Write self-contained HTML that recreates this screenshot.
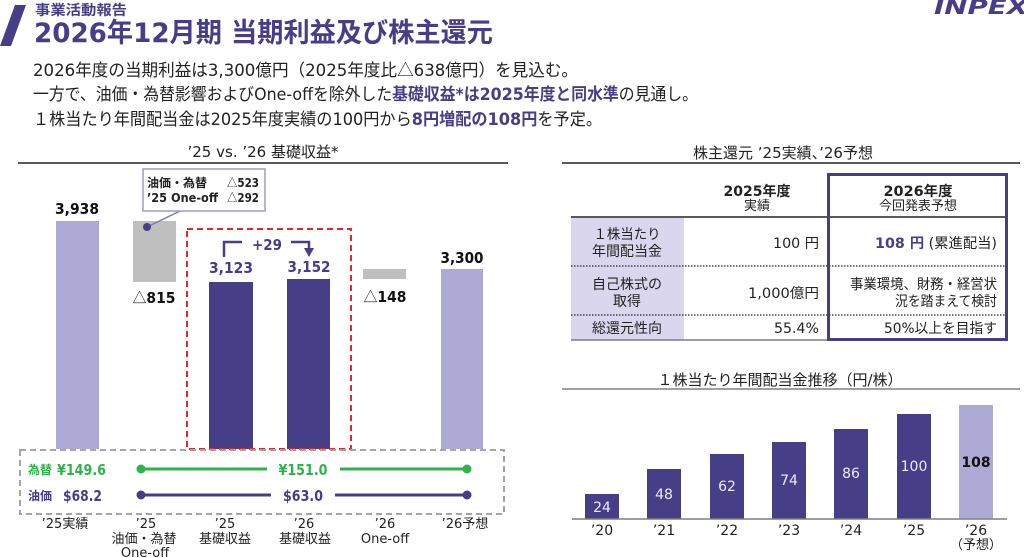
<!DOCTYPE html>
<html><head><meta charset="utf-8">
<style>
html,body{margin:0;padding:0;background:#fff;}
svg{display:block;}
text{font-family:"DejaVu Sans","Noto Sans CJK JP",sans-serif;}
.cj{font-family:"Noto Sans CJK JP",sans-serif;}
</style></head><body>
<svg width="1024" height="558" viewBox="0 0 1024 558" xmlns="http://www.w3.org/2000/svg">
<!-- header -->
<polygon points="15,5 26,5 11,46 0,46" fill="#463f88"/>
<text x="35" y="15" font-size="14" font-weight="bold" fill="#463f88" textLength="92" lengthAdjust="spacingAndGlyphs">事業活動報告</text>
<text x="34" y="42" font-size="27" font-weight="bold" fill="#463f88" textLength="459" lengthAdjust="spacingAndGlyphs">2026年12月期 当期利益及び株主還元</text>
<text x="934" y="14" font-size="20" font-weight="bold" font-style="italic" fill="#463f88" textLength="94" lengthAdjust="spacingAndGlyphs">INPEX</text>

<!-- body text -->
<text x="33" y="76" font-size="17" fill="#222" textLength="545" lengthAdjust="spacingAndGlyphs">2026年度の当期利益は3,300億円（2025年度比<tspan class="cj">△</tspan>638億円）を見込む。</text>
<text x="33" y="100" font-size="17" fill="#222" textLength="665" lengthAdjust="spacingAndGlyphs">一方で、油価・為替影響およびOne-offを除外した<tspan fill="#463f88" font-weight="bold">基礎収益*は2025年度と同水準</tspan>の見通し。</text>
<text x="33" y="125" font-size="17" fill="#222" textLength="569" lengthAdjust="spacingAndGlyphs">１株当たり年間配当金は2025年度実績の100円から<tspan fill="#463f88" font-weight="bold">8円増配の108円</tspan>を予定。</text>

<!-- left chart title -->
<text x="263" y="157" font-size="15" fill="#222" text-anchor="middle">’25 vs. ’26 基礎収益*</text>
<line x1="18" y1="163" x2="508" y2="163" stroke="#222" stroke-width="1.5"/>

<!-- right title -->
<text x="783" y="158" font-size="15" fill="#222" text-anchor="middle">株主還元 ’25実績、’26予想</text>
<line x1="562" y1="163" x2="1020" y2="163" stroke="#222" stroke-width="1.5"/>

<!-- waterfall bars -->
<rect x="56" y="221" width="43" height="228" fill="#aeaad6"/>
<rect x="133" y="221" width="43" height="61" fill="#bfbfbf"/>
<rect x="209" y="282" width="44" height="167" fill="#463f88"/>
<rect x="287" y="279" width="43" height="170" fill="#463f88"/>
<rect x="363" y="269" width="43" height="10" fill="#bfbfbf"/>
<rect x="441" y="269" width="42" height="180" fill="#aeaad6"/>

<!-- bar labels -->
<text x="77" y="214" font-size="15" font-weight="bold" fill="#111" text-anchor="middle" textLength="44" lengthAdjust="spacingAndGlyphs">3,938</text>
<text x="154" y="303" font-size="15" font-weight="bold" fill="#111" text-anchor="middle" textLength="43" lengthAdjust="spacingAndGlyphs"><tspan class="cj" font-weight="normal">△</tspan>815</text>
<text x="231" y="273" font-size="15" font-weight="bold" fill="#463f88" text-anchor="middle" textLength="44" lengthAdjust="spacingAndGlyphs">3,123</text>
<text x="309" y="272" font-size="15" font-weight="bold" fill="#463f88" text-anchor="middle" textLength="43" lengthAdjust="spacingAndGlyphs">3,152</text>
<text x="385" y="302" font-size="15" font-weight="bold" fill="#111" text-anchor="middle" textLength="43" lengthAdjust="spacingAndGlyphs"><tspan class="cj" font-weight="normal">△</tspan>148</text>
<text x="462" y="263" font-size="15" font-weight="bold" fill="#111" text-anchor="middle" textLength="43" lengthAdjust="spacingAndGlyphs">3,300</text>

<!-- callout -->
<line x1="180" y1="211" x2="147" y2="227" stroke="#7e79b8" stroke-width="1.5"/>
<circle cx="147" cy="227" r="4" fill="#463f88"/>
<rect x="143" y="169" width="122" height="42" fill="#fff" stroke="#9e9acb" stroke-width="1.5"/>
<text x="147" y="187" font-size="12" font-weight="bold" fill="#222" textLength="60" lengthAdjust="spacingAndGlyphs">油価・為替</text>
<text x="259" y="187" font-size="12" font-weight="bold" fill="#222" text-anchor="end" textLength="32" lengthAdjust="spacingAndGlyphs"><tspan class="cj" font-weight="normal">△</tspan>523</text>
<text x="147" y="202" font-size="12" font-weight="bold" fill="#222" textLength="71" lengthAdjust="spacingAndGlyphs">’25 One-off</text>
<text x="259" y="202" font-size="12" font-weight="bold" fill="#222" text-anchor="end" textLength="32" lengthAdjust="spacingAndGlyphs"><tspan class="cj" font-weight="normal">△</tspan>292</text>

<!-- red dashed box -->
<rect x="187" y="229" width="164" height="220" fill="none" stroke="#e5262b" stroke-width="2" stroke-dasharray="6,4"/>
<!-- bracket arrow -->
<path d="M224,257 V242 H242" fill="none" stroke="#463f88" stroke-width="2.5"/>
<path d="M291,242 H309 V250" fill="none" stroke="#463f88" stroke-width="2.5"/>
<polygon points="304,248 314,248 309,257" fill="#463f88"/>
<text x="267" y="250" font-size="15" font-weight="bold" fill="#463f88" text-anchor="middle" textLength="30" lengthAdjust="spacingAndGlyphs">+29</text>

<!-- gray dashed box -->
<rect x="20" y="450" width="484" height="64" fill="none" stroke="#a5a5a5" stroke-width="2" stroke-dasharray="6,4"/>
<line x1="141" y1="469" x2="267" y2="469" stroke="#2eb34b" stroke-width="3"/>
<line x1="340" y1="469" x2="467" y2="469" stroke="#2eb34b" stroke-width="3"/>
<circle cx="141" cy="469" r="4.5" fill="#2eb34b"/>
<circle cx="467" cy="469" r="4.5" fill="#2eb34b"/>
<text x="28" y="474" font-size="12" font-weight="bold" fill="#2eb34b" textLength="24" lengthAdjust="spacingAndGlyphs">為替</text>
<text x="57" y="475" font-size="15" font-weight="bold" fill="#2eb34b" textLength="49" lengthAdjust="spacingAndGlyphs">¥149.6</text>
<text x="303" y="475" font-size="15" font-weight="bold" fill="#2eb34b" text-anchor="middle" textLength="49" lengthAdjust="spacingAndGlyphs">¥151.0</text>

<line x1="141" y1="495" x2="271" y2="495" stroke="#463f88" stroke-width="3"/>
<line x1="335" y1="495" x2="467" y2="495" stroke="#463f88" stroke-width="3"/>
<circle cx="141" cy="495" r="4.5" fill="#463f88"/>
<circle cx="467" cy="495" r="4.5" fill="#463f88"/>
<text x="28" y="500" font-size="12" font-weight="bold" fill="#463f88" textLength="24" lengthAdjust="spacingAndGlyphs">油価</text>
<text x="63" y="501" font-size="15" font-weight="bold" fill="#463f88" textLength="39" lengthAdjust="spacingAndGlyphs">$68.2</text>
<text x="303" y="501" font-size="15" font-weight="bold" fill="#463f88" text-anchor="middle" textLength="40" lengthAdjust="spacingAndGlyphs">$63.0</text>

<!-- waterfall x labels -->
<g font-size="13" fill="#222" text-anchor="middle">
<text x="65" y="528">’25実績</text>
<text x="146" y="528">’25</text>
<text x="144" y="543">油価・為替</text>
<text x="145" y="557">One-off</text>
<text x="225" y="528">’25</text>
<text x="225" y="543">基礎収益</text>
<text x="304" y="528">’26</text>
<text x="305" y="543">基礎収益</text>
<text x="385" y="528">’26</text>
<text x="385" y="543">One-off</text>
<text x="465" y="528">’26予想</text>
</g>

<!-- table -->
<rect x="571" y="218" width="113" height="122" fill="#d9d6ee"/>
<line x1="571" y1="217" x2="1008" y2="217" stroke="#222" stroke-width="1.5"/>
<line x1="571" y1="266" x2="1008" y2="266" stroke="#444" stroke-width="1.5" stroke-dasharray="1.5,1.5"/>
<line x1="571" y1="315" x2="1008" y2="315" stroke="#444" stroke-width="1.5" stroke-dasharray="1.5,1.5"/>
<line x1="571" y1="340" x2="828" y2="340" stroke="#7a7a9a" stroke-width="1.5"/>
<rect x="828.5" y="174.5" width="178" height="165" fill="none" stroke="#463f88" stroke-width="3"/>

<g fill="#222" text-anchor="middle">
<text x="757" y="196" font-size="14" font-weight="bold" textLength="67" lengthAdjust="spacingAndGlyphs">2025年度</text>
<text x="757" y="210" font-size="13">実績</text>
<text x="918" y="196" font-size="14" font-weight="bold" textLength="69" lengthAdjust="spacingAndGlyphs">2026年度</text>
<text x="918" y="210" font-size="13">今回発表予想</text>
<text x="627" y="239" font-size="14" textLength="67" lengthAdjust="spacingAndGlyphs">１株当たり</text>
<text x="627" y="256" font-size="14">年間配当金</text>
<text x="627" y="289" font-size="14">自己株式の</text>
<text x="627" y="306" font-size="14">取得</text>
<text x="627" y="333" font-size="14">総還元性向</text>
</g>
<g fill="#222" text-anchor="end" font-size="14">
<text x="819" y="248" textLength="46" lengthAdjust="spacingAndGlyphs">100 円</text>
<text x="997" y="248" textLength="122" lengthAdjust="spacingAndGlyphs"><tspan fill="#463f88" font-weight="bold">108 円</tspan> (累進配当)</text>
<text x="819" y="298" textLength="71" lengthAdjust="spacingAndGlyphs">1,000億円</text>
<text x="997" y="289" textLength="147" lengthAdjust="spacingAndGlyphs">事業環境、財務・経営状</text>
<text x="997" y="306" textLength="102" lengthAdjust="spacingAndGlyphs">況を踏まえて検討</text>
<text x="819" y="333" textLength="45" lengthAdjust="spacingAndGlyphs">55.4%</text>
<text x="997" y="333" textLength="113" lengthAdjust="spacingAndGlyphs">50%以上を目指す</text>
</g>

<!-- dividend chart -->
<text x="780" y="385" font-size="15" fill="#222" text-anchor="middle">１株当たり年間配当金推移（円/株）</text>
<line x1="562" y1="389" x2="1020" y2="389" stroke="#808080" stroke-width="1.5"/>

<rect x="585" y="494" width="34" height="25" fill="#463f88"/>
<rect x="647" y="469" width="34" height="50" fill="#463f88"/>
<rect x="710" y="454" width="34" height="65" fill="#463f88"/>
<rect x="772" y="442" width="34" height="77" fill="#463f88"/>
<rect x="834" y="429" width="34" height="90" fill="#463f88"/>
<rect x="897" y="414" width="34" height="105" fill="#463f88"/>
<rect x="959" y="405" width="34" height="114" fill="#aeaad6"/>
<line x1="572" y1="519" x2="1007" y2="519" stroke="#7f7f7f" stroke-width="1.5"/>

<g font-size="14" fill="#eceaf7" text-anchor="middle">
<text x="602" y="512">24</text>
<text x="664" y="499">48</text>
<text x="727" y="491">62</text>
<text x="789" y="485">74</text>
<text x="851" y="478">86</text>
<text x="914" y="471">100</text>
</g>
<text x="976" y="467" font-size="14" font-weight="bold" fill="#111" text-anchor="middle">108</text>

<g font-size="14" fill="#222" text-anchor="middle">
<text x="602" y="535">’20</text>
<text x="664" y="535">’21</text>
<text x="727" y="535">’22</text>
<text x="789" y="535">’23</text>
<text x="851" y="535">’24</text>
<text x="914" y="535">’25</text>
<text x="976" y="535">’26</text>
<text x="976" y="549" font-size="13">（予想）</text>
</g>
</svg>
</body></html>
